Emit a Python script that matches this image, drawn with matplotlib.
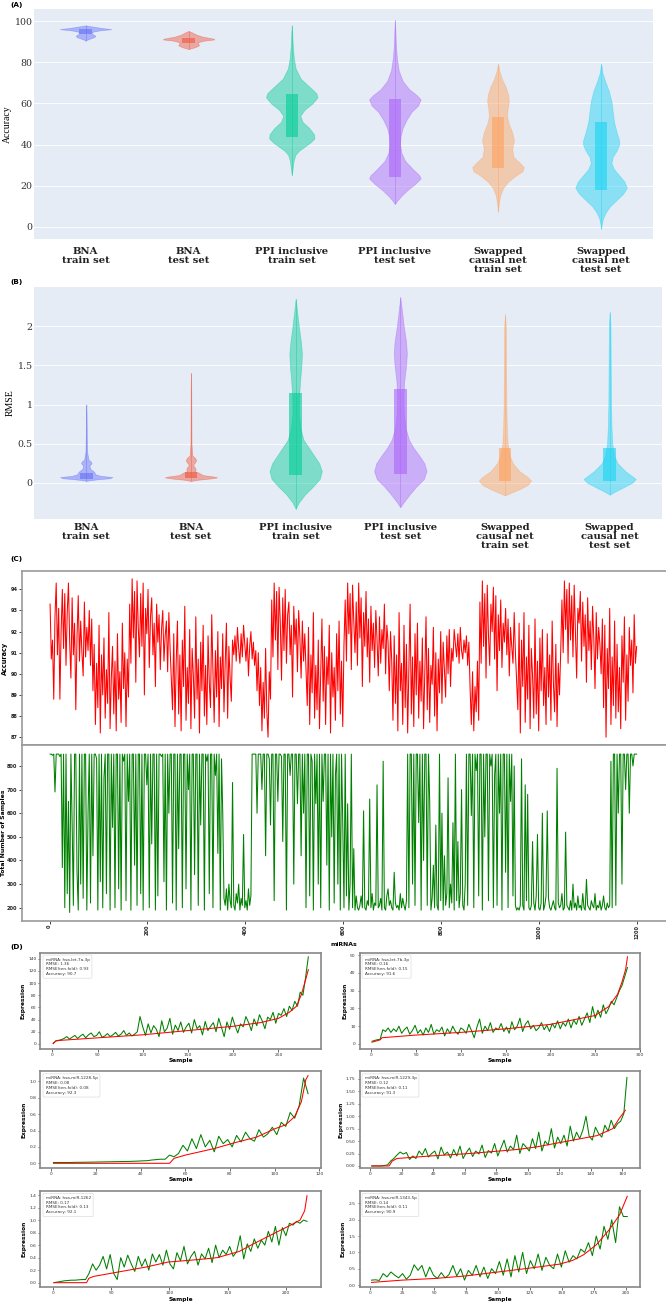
import numpy as np
import matplotlib.pyplot as plt

# ---------------- panel A / B: violins (outline) ----------------
groups = ["BNA\ntrain set", "BNA\ntest set", "PPI inclusive\ntrain set",
          "PPI inclusive\ntest set", "Swapped\ncausal net\ntrain set",
          "Swapped\ncausal net\ntest set"]
colors = ["#636EFA", "#EF553B", "#00CC96", "#AB63FA", "#FFA15A", "#19D3F3"]

# accuracy: outline heights and relative half widths
acc_y = [
    [98.0, 97.5, 96.8, 96.2, 95.6, 95.0, 94.3, 93.6, 93.0, 92.4, 91.7, 91.0, 90.6],
    [95.3, 94.5, 93.5, 92.5, 91.6, 91.2, 90.6, 89.8, 89.0, 88.3, 87.4, 86.5],
    [98, 94, 88, 82, 77, 72, 68, 65, 63, 60, 57, 54, 51, 48, 45, 43, 41, 39, 37, 35, 32, 28, 25],
    [100.5, 95, 88, 82, 76, 71, 67, 64, 62, 59, 56, 52, 48, 44, 40, 36, 32, 28, 25, 23.5, 21, 18, 15, 12.5, 11],
    [79.4, 76, 72, 68, 64, 61, 58, 54, 50, 46, 42, 38, 34, 31, 29, 27, 25, 22, 19, 15, 10, 7.4],
    [79.4, 75, 71, 66, 61, 56, 51, 46, 42, 40, 37, 34, 31, 28, 25, 22, 19, 16, 13, 10, 7, 4, 1, -1],
]
acc_w = [
    [0, 0.25, 0.6, 1.0, 0.55, 0.3, 0.22, 0.3, 0.38, 0.35, 0.2, 0.05, 0],
    [0, 0.15, 0.3, 0.55, 0.95, 1.0, 0.6, 0.35, 0.38, 0.4, 0.25, 0],
    [0, 0.02, 0.04, 0.08, 0.15, 0.35, 0.7, 0.95, 1.0, 0.8, 0.5, 0.33, 0.42, 0.68, 0.86, 0.88, 0.72, 0.5, 0.28, 0.14, 0.07, 0.03, 0],
    [0, 0.02, 0.04, 0.08, 0.15, 0.3, 0.55, 0.85, 1.0, 0.9, 0.65, 0.45, 0.3, 0.22, 0.2, 0.25, 0.4, 0.7, 0.95, 1.0, 0.8, 0.5, 0.25, 0.08, 0],
    [0, 0.05, 0.15, 0.3, 0.4, 0.42, 0.38, 0.35, 0.42, 0.55, 0.62, 0.55, 0.6, 0.85, 1.0, 0.95, 0.7, 0.4, 0.2, 0.08, 0.02, 0],
    [0, 0.05, 0.15, 0.3, 0.4, 0.45, 0.5, 0.6, 0.7, 0.7, 0.6, 0.45, 0.4, 0.5, 0.7, 0.9, 1.0, 0.85, 0.6, 0.35, 0.18, 0.07, 0.02, 0],
]
acc_box = [(93.6, 95.0, 96.4), (89.6, 90.8, 92.0), (43.8, 54.0, 64.4),
           (24.0, 40.0, 62.0), (28.5, 38.0, 53.6), (18.0, 30.0, 51.0)]

rmse_y = [
    [1.0, 0.9, 0.6, 0.4, 0.3, 0.27, 0.25, 0.22, 0.18, 0.14, 0.11, 0.09, 0.075, 0.06, 0.045, 0.03, 0.025],
    [1.4, 1.2, 0.8, 0.5, 0.35, 0.32, 0.29, 0.26, 0.23, 0.21, 0.18, 0.15, 0.13, 0.1, 0.08, 0.07, 0.055, 0.04, 0.025],
    [2.35, 2.2, 2.0, 1.8, 1.65, 1.5, 1.3, 1.1, 0.9, 0.7, 0.55, 0.45, 0.35, 0.25, 0.15, 0.05, -0.05, -0.15, -0.25, -0.33],
    [2.37, 2.2, 2.0, 1.8, 1.65, 1.5, 1.3, 1.1, 0.9, 0.7, 0.55, 0.45, 0.35, 0.25, 0.15, 0.05, -0.05, -0.15, -0.25, -0.31],
    [2.15, 2.0, 1.5, 1.0, 0.7, 0.5, 0.35, 0.25, 0.15, 0.08, 0.03, -0.03, -0.08, -0.13, -0.16],
    [2.18, 2.0, 1.5, 1.0, 0.7, 0.5, 0.35, 0.25, 0.15, 0.08, 0.05, 0.0, -0.06, -0.12, -0.15],
]
rmse_w = [
    [0, 0.01, 0.02, 0.03, 0.08, 0.18, 0.2, 0.12, 0.15, 0.3, 0.35, 0.55, 1.0, 0.9, 0.4, 0.05, 0],
    [0, 0.01, 0.015, 0.02, 0.05, 0.15, 0.2, 0.15, 0.08, 0.12, 0.18, 0.15, 0.3, 0.45, 0.9, 1.0, 0.7, 0.25, 0],
    [0, 0.05, 0.12, 0.2, 0.24, 0.22, 0.17, 0.13, 0.12, 0.18, 0.3, 0.5, 0.7, 0.9, 1.0, 0.92, 0.65, 0.35, 0.12, 0],
    [0, 0.06, 0.13, 0.22, 0.25, 0.22, 0.15, 0.12, 0.13, 0.2, 0.33, 0.5, 0.72, 0.92, 1.0, 0.9, 0.6, 0.35, 0.12, 0],
    [0, 0.03, 0.04, 0.05, 0.07, 0.1, 0.17, 0.3, 0.55, 0.85, 1.0, 0.85, 0.55, 0.2, 0],
    [0, 0.03, 0.04, 0.05, 0.07, 0.1, 0.17, 0.3, 0.6, 0.88, 1.0, 0.85, 0.5, 0.15, 0],
]
rmse_box = [(0.056, 0.08, 0.128), (0.06, 0.09, 0.14), (0.10, 0.5, 1.15),
            (0.12, 0.5, 1.20), (0.02, 0.1, 0.44), (0.03, 0.1, 0.45)]

# ---------------- panel C: per-miRNA accuracy and sample count ----------------
mirna_acc = [
    # 0-88
    93.3, 90.7, 91.6, 88.8, 92.7, 94.3, 90.9, 93.1, 88.8, 92.0, 94.0, 91.2, 93.8, 90.4, 92.9, 94.3, 91.5, 89.8,
    93.6, 90.9, 92.4, 88.3, 91.8, 93.7, 90.6, 92.5, 91.0, 89.9, 93.4, 90.8, 92.2, 91.1, 93.0, 90.4, 92.6,
    # 88-162
    89.2, 91.4, 87.6, 90.5, 88.4, 92.3, 87.2, 90.9, 89.0, 91.7, 87.9, 90.2, 88.6, 92.9, 87.4, 89.8, 91.3, 88.1,
    90.6, 87.3, 91.9, 88.8, 90.1, 87.7, 92.4, 89.3, 91.0, 87.5, 90.7, 88.9,
    # 162-250
    93.3, 90.5, 94.5, 91.7, 93.9, 89.6, 94.4, 92.2, 90.8, 93.8, 91.3, 94.3, 89.0, 93.1, 91.9, 94.0, 90.3, 92.7,
    93.6, 90.9, 92.4, 89.4, 93.3, 91.5, 92.8, 90.2, 92.1, 93.0, 90.6, 91.8, 92.5, 90.1, 92.9, 91.2, 89.7,
    # 250-375
    88.3, 91.9, 87.5, 90.6, 92.5, 88.1, 90.9, 87.3, 91.6, 89.4, 93.2, 87.8, 90.3, 88.6, 92.1, 87.4, 91.2, 89.9,
    87.9, 92.7, 88.8, 90.7, 87.2, 91.5, 89.2, 92.3, 88.0, 90.4, 87.6, 91.8, 89.6, 88.4, 92.8, 90.1, 87.7, 91.1,
    88.9, 92.0, 87.5, 90.8, 89.3, 91.9, 88.2, 90.5, 92.4, 87.9, 91.3, 89.8, 88.7, 91.6,
    # 375-428
    90.9, 91.8, 90.6, 92.2, 91.2, 90.5, 91.9, 90.8, 92.3, 91.4, 90.6, 91.7, 89.9, 91.3, 92.0, 90.7, 91.5, 90.4,
    91.1, 89.2, 91.0,
    # 428-453
    88.5, 90.3, 87.3, 89.6, 87.9, 91.2, 88.2, 87.0, 90.1, 88.8,
    # 453-525
    93.5, 90.8, 94.3, 91.6, 93.9, 90.2, 94.1, 92.4, 89.7, 93.6, 91.1, 94.0, 90.5, 92.8, 93.4, 90.9, 92.3, 88.9,
    93.2, 91.4, 92.6, 90.1, 93.0, 91.7, 89.8, 92.5, 90.6, 91.9, 90.2,
    # 525-603
    88.5, 92.2, 87.6, 90.9, 89.1, 92.9, 87.9, 90.4, 88.3, 91.6, 87.4, 90.0, 92.6, 88.7, 91.3, 87.6, 90.8, 89.5,
    92.3, 87.2, 91.0, 88.9, 90.3, 87.8, 91.9, 89.2, 92.5, 88.1, 90.6, 87.5, 91.4,
    # 603-700
    93.5, 90.6, 94.3, 91.9, 93.8, 90.2, 94.2, 92.5, 91.0, 93.4, 90.4, 94.3, 91.7, 93.6, 89.4, 92.9, 91.3, 93.9,
    90.8, 92.6, 89.6, 93.2, 91.1, 92.4, 90.3, 93.0, 91.6, 89.9, 92.7, 90.5, 92.1, 91.2, 93.3, 90.0, 92.3, 91.5,
    89.2, 92.0, 90.6,
    # 700-820
    87.8, 91.8, 88.6, 90.9, 87.3, 92.9, 89.2, 90.5, 87.6, 92.3, 88.4, 91.4, 87.2, 90.2, 93.3, 88.1, 90.8, 87.5,
    91.9, 89.0, 92.4, 87.9, 90.6, 88.7, 91.7, 87.4, 90.1, 92.7, 88.3, 91.2, 87.7, 90.4, 89.5, 92.2, 88.0, 91.0,
    87.3, 90.7, 89.1, 92.0, 88.6, 91.5, 90.2, 88.9, 91.8, 90.0, 92.1, 89.4,
    # 820-860
    91.2, 90.6, 92.1, 91.4, 90.8, 91.9, 90.5, 92.2, 91.1, 90.7, 91.6, 91.0, 91.8, 90.4, 91.5, 89.3,
    # 860-877
    87.6, 90.1, 87.3, 89.4, 88.2, 90.6, 87.8,
    # 877-955
    93.4, 90.5, 94.4, 91.3, 93.8, 89.8, 94.2, 91.8, 90.4, 93.3, 92.0, 94.1, 90.7, 93.7, 89.2, 92.8, 91.1, 93.5,
    90.3, 92.4, 91.5, 93.1, 90.9, 92.6, 89.9, 92.2, 91.3, 90.5, 92.9, 91.0, 89.6,
    # 955-1045
    88.3, 92.4, 87.2, 91.6, 89.4, 92.9, 87.7, 90.8, 88.8, 92.3, 87.4, 91.2, 89.9, 87.9, 92.6, 88.1, 90.6, 87.3,
    91.7, 89.2, 92.1, 88.5, 90.3, 87.6, 91.9, 88.9, 90.9, 87.8, 92.5, 89.6, 88.2, 91.4, 87.5, 90.5, 89.0, 91.1,
    # 1045-1130
    93.5, 91.0, 94.4, 92.1, 94.0, 90.5, 94.3, 91.6, 93.7, 90.8, 94.2, 91.9, 89.8, 93.1, 92.4, 93.9, 90.6, 93.4,
    91.3, 92.8, 89.6, 93.6, 91.1, 92.5, 90.2, 93.2, 91.7, 89.3, 92.9, 90.7, 92.2, 91.4, 90.0, 92.6,
    # 1130-1200
    88.4, 92.3, 87.0, 91.2, 89.3, 93.1, 87.6, 90.8, 88.5, 92.5, 87.9, 91.4, 88.2, 90.3, 87.4, 91.8, 89.6, 92.7,
    87.8, 90.9, 88.7, 92.2, 90.4, 91.6, 89.1, 92.8, 90.5, 91.3,
]
mirna_samples = [
    # 0-30
    850, 850, 845, 850, 690, 850, 850, 850, 840, 850, 370, 850,
    # 30-355
    200, 850, 260, 650, 180, 850, 560, 210, 850, 850, 350, 190, 850, 300, 850, 240, 850, 850, 190, 600,
    850, 220, 850, 420, 850, 850, 830, 190, 850, 310, 850, 200, 750, 850, 260, 850, 850, 190, 850, 540,
    850, 200, 850, 850, 280, 850, 190, 850, 820, 850, 230, 850, 650, 850, 190, 850, 850, 380, 850, 210,
    850, 850, 260, 850, 190, 850, 850, 720, 850, 200, 850, 470, 850, 850, 190, 850, 250, 850, 850, 840,
    850, 310, 850, 190, 850, 600, 850, 850, 220, 850, 850, 190, 850, 450, 850, 850, 200, 850, 850, 280,
    850, 700, 850, 190, 850, 850, 340, 850, 850, 210, 850, 550, 850, 850, 190, 850, 820, 850, 260, 850,
    850, 200, 850, 760, 850, 430, 850, 190, 830, 600,
    # 355-420
    240, 210, 280, 190, 300, 230, 200, 730, 210, 190, 260, 220, 300, 190, 240, 210, 510, 200, 230, 190,
    280, 210, 250, 850, 850, 850,
    # 420-630
    850, 600, 850, 850, 850, 700, 850, 850, 420, 850, 850, 830, 550, 850, 850, 230, 850, 850, 650, 850,
    850, 840, 480, 850, 850, 190, 850, 850, 760, 850, 850, 300, 850, 850, 640, 850, 850, 420, 850, 600,
    850, 200, 850, 850, 250, 850, 820, 190, 850, 640, 850, 300, 850, 200, 850, 650, 850, 850, 380, 850,
    190, 850, 500, 850, 220, 760, 850, 300, 850, 190, 850, 560, 200, 850, 250, 640, 190, 300, 850, 200,
    450, 190, 250, 200,
    # 630-730
    190, 210, 250, 200, 610, 200, 190, 230, 210, 660, 200, 260, 190, 220, 210, 720, 200, 210, 240, 190,
    820, 200, 190, 250, 280, 210, 230, 200, 190, 350, 220, 200, 210, 190, 260, 200, 240, 210, 190, 230,
    # 730-780
    850, 200, 850, 850, 300, 850, 210, 850, 850, 560, 850, 190, 850, 400, 850, 850, 210, 850, 650, 190,
    # 780-850
    240, 380, 200, 550, 210, 190, 850, 230, 600, 190, 420, 210, 260, 750, 200, 300, 220, 560, 190, 850,
    230, 480, 200, 260, 700, 210, 190, 300,
    # 850-955
    850, 210, 850, 850, 590, 850, 200, 850, 780, 850, 250, 850, 850, 190, 850, 500, 850, 850, 230, 850,
    800, 850, 200, 760, 850, 210, 850, 600, 850, 190, 850, 850, 350, 850, 200, 850, 650, 850, 250, 800,
    210, 190,
    # 955-1145
    200, 190, 210, 830, 210, 190, 720, 230, 680, 200, 190, 210, 480, 220, 190, 250, 510, 200, 190, 220,
    600, 190, 210, 250, 610, 240, 200, 190, 210, 230, 200, 190, 790, 220, 200, 210, 260, 190, 200, 520,
    210, 200, 190, 230, 190, 300, 200, 220, 190, 250, 200, 210, 190, 260, 200, 190, 320, 210, 200, 190,
    230, 210, 200, 260, 190, 210, 200, 230, 190, 210, 250, 200, 190, 220, 200, 210,
    # 1145-1200
    820, 200, 850, 850, 210, 850, 600, 850, 850, 300, 850, 850, 700, 850, 850, 600, 850, 850, 800, 850,
    850, 850,
]
n_mirna = 1200

# ---------------- panel D: six example miRNAs ----------------
d_names = ["hsa-let-7a-3p", "hsa-let-7b-3p", "hsa-miR-1228-5p",
           "hsa-miR-1229-3p", "hsa-miR-1262", "hsa-miR-1343-5p"]
d_rmse = [1.36, 0.16, 0.08, 0.12, 0.17, 0.14]
d_rmse10 = [0.93, 0.15, 0.08, 0.11, 0.13, 0.11]
d_acc = [90.7, 91.6, 92.3, 91.3, 92.1, 90.9]
d_n = [283, 286, 115, 163, 218, 201]

# actual expression (sorted), read at a few samples
d_actual_x = [
    [1, 4, 10, 30, 60, 100, 150, 200, 230, 250, 262, 270, 275, 279, 283],
    [1, 10, 12, 50, 100, 150, 200, 250, 265, 275, 280, 284, 286],
    [1, 53, 55, 60, 73, 82, 92, 100, 105, 109, 112, 114, 115],
    [1, 12, 14, 17, 38, 63, 93, 105, 122, 144, 154, 158, 162],
    [1, 29, 31, 35, 50, 65, 80, 99, 125, 141, 160, 172, 189, 204, 212, 216, 218],
    [1, 25, 50, 75, 100, 125, 148, 158, 167, 177, 187, 195, 201],
]
d_actual_y = [
    [0.5, 5, 6, 8, 11, 15, 22, 29, 35, 42, 52, 62, 80, 100, 122],
    [1.0, 2.3, 3.5, 5.0, 6.5, 8.5, 11, 16, 21, 28, 35, 42, 49],
    [0, 0, 0.06, 0.1, 0.18, 0.25, 0.32, 0.42, 0.47, 0.57, 0.75, 1.02, 1.07],
    [0, 0, 0.1, 0.15, 0.2, 0.25, 0.33, 0.38, 0.48, 0.61, 0.75, 0.95, 1.12],
    [0.0, 0.0, 0.07, 0.1, 0.15, 0.2, 0.25, 0.33, 0.37, 0.4, 0.5, 0.62, 0.78, 0.92, 1.0, 1.15, 1.39],
    [0.08, 0.15, 0.2, 0.28, 0.4, 0.52, 0.64, 0.75, 0.93, 1.24, 1.7, 2.15, 2.72],
]
# predicted expression, every few samples
d_pred = [
    [1, 5, 6, 7, 9, 12, 8, 11, 14, 9, 13, 16, 10, 15, 18, 12, 14, 20, 11, 13,
     17, 12, 15, 19, 13, 16, 22, 14, 18, 13, 16, 20, 45, 28, 14, 33, 18, 30, 24, 12,
     38, 20, 26, 42, 16, 31, 22, 36, 19, 28, 34, 18, 40, 25, 30, 15, 37, 22, 29, 35,
     20, 42, 27, 12, 36, 24, 44, 30, 18, 33, 28, 45, 35, 22, 41, 30, 48, 38, 25, 44,
     40, 52, 34, 50, 47, 58, 45, 62, 55, 70, 62, 85, 80, 110, 143],
    [1.5, 2.0, 2.4, 2.6, 8.0, 7.0, 9.0, 6.5, 8.5, 7.0, 10.0, 6.0, 8.0, 9.5, 5.5, 7.5, 10.5, 6.0, 8.0, 5.0,
     9.0, 6.5, 11.0, 5.5, 8.0, 7.0, 9.5, 4.5, 8.5, 6.0, 10.0, 7.0, 5.5, 9.0, 8.0, 6.0, 11.0, 7.5, 3.5, 9.5,
     14.0, 6.0, 10.0, 7.5, 12.0, 6.5, 9.0, 8.0, 11.5, 7.0, 9.5, 6.0, 12.5, 8.0, 10.0, 14.5, 7.0, 11.0, 13.0, 8.5,
     10.5, 7.5, 9.0, 12.0, 8.0, 10.5, 7.0, 11.5, 9.0, 13.0, 8.5, 12.0, 10.0, 14.0, 9.0, 13.5, 11.0, 15.5, 10.5, 14.0,
     17.5, 12.0, 21.0, 14.5, 19.0, 15.0, 22.0, 17.0, 20.0, 24.0, 22.0, 26.0, 30.0, 33.0, 38.0, 43.0],
    [0.01, 0.01, 0.01, 0.01, 0.01, 0.012, 0.012, 0.013, 0.014, 0.015, 0.016, 0.017, 0.018, 0.019, 0.02,
     0.021, 0.022, 0.023, 0.025, 0.027, 0.03, 0.032, 0.04, 0.045, 0.05, 0.05, 0.1, 0.08, 0.12,
     0.22, 0.15, 0.3, 0.18, 0.35, 0.2, 0.28, 0.14, 0.33, 0.24, 0.29,
     0.2, 0.34, 0.26, 0.38, 0.3, 0.27, 0.41, 0.32, 0.36, 0.44, 0.35,
     0.5, 0.45, 0.62, 0.55, 0.7, 1.04, 0.85],
    [0.0, 0.0, 0.0, 0.0, 0.01, 0.02, 0.1, 0.15, 0.22, 0.28, 0.24, 0.27, 0.13, 0.2, 0.15, 0.3, 0.22, 0.35, 0.18, 0.25,
     0.3, 0.14, 0.38, 0.22, 0.28, 0.16, 0.33, 0.2, 0.4, 0.15, 0.27, 0.36, 0.19, 0.3, 0.24, 0.42, 0.17, 0.31, 0.26, 0.45,
     0.2, 0.36, 0.52, 0.28, 0.4, 0.33, 0.62, 0.25, 0.45, 0.38, 0.3, 0.55, 0.35, 0.68, 0.3, 0.5, 0.42, 0.75, 0.36, 0.58,
     0.45, 0.62, 0.4, 0.8, 0.5, 0.68, 0.55, 0.72, 1.0, 0.6, 0.52, 0.78, 0.65, 0.58, 0.82, 0.7, 0.92, 0.75, 0.85, 0.9,
     1.05, 1.78],
    [0.0, 0.01, 0.02, 0.03, 0.035, 0.04, 0.04, 0.045, 0.05, 0.05,
     0.15, 0.3, 0.2, 0.28, 0.42, 0.22, 0.45, 0.15, 0.05, 0.4,
     0.25, 0.44, 0.3, 0.18, 0.42, 0.26, 0.38, 0.2, 0.46, 0.33,
     0.45, 0.28, 0.52, 0.3, 0.22, 0.48, 0.35, 0.58, 0.3, 0.42,
     0.5, 0.28, 0.46, 0.38, 0.55, 0.32, 0.6, 0.4, 0.52, 0.45,
     0.58, 0.42, 0.5, 0.75, 0.38, 0.62, 0.5, 0.7, 0.55, 0.68,
     0.6, 0.82, 0.65, 0.9, 0.6, 0.88, 0.75, 0.95, 0.92, 0.98, 0.95, 1.0, 0.98],
    [0.15, 0.16, 0.14, 0.35, 0.25, 0.4, 0.3, 0.22, 0.35, 0.18, 0.3,
     0.62, 0.45, 0.6, 0.25, 0.55, 0.3, 0.2, 0.38, 0.22, 0.32, 0.6,
     0.28, 0.5, 0.15, 0.45, 0.3, 0.6, 0.25, 0.55, 0.2, 0.5, 0.35,
     0.72, 0.3, 0.8, 0.25, 0.9, 0.4, 1.0, 0.35, 0.75, 0.5, 0.95,
     0.45, 0.85, 0.6, 0.5, 0.95, 0.55, 1.05, 0.7, 0.9, 0.8, 1.1,
     1.0, 1.3, 0.9, 1.5, 1.1, 1.8, 1.4, 2.0, 1.3, 2.4, 2.1, 2.1],
]
d_xlim = [(-13, 297), (-13, 300), (-4.8, 120.8), (-6.8, 171.3), (-10.5, 230), (-8.4, 211)]
d_ylim = [(-8.2, 149.8), (-2.8, 51.3), (-0.054, 1.12), (-0.036, 1.90), (-0.074, 1.464), (-0.07, 2.88)]

SERIF = "DejaVu Serif"

fig = plt.figure(figsize=(6.66, 13.04), dpi=100)


def violin_panel(ax, ys, ws, boxes, ylim, yticks, yticklabels, ylabel, pad):
    ax.set_facecolor("#E5ECF6")
    for s in ax.spines.values():
        s.set_visible(False)
    pos = list(range(len(groups)))
    stats = []
    for y, w in zip(ys, ws):
        y = np.array(y, float)
        stats.append(dict(coords=y, vals=np.array(w, float), mean=y.mean(),
                          median=np.median(y), min=y.min(), max=y.max()))
    parts = ax.violin(stats, positions=pos, widths=0.5, showextrema=False)
    for body, c in zip(parts["bodies"], colors):
        body.set_facecolor(c)
        body.set_edgecolor(c)
        body.set_alpha(0.45)
        body.set_linewidth(0.5)
    for p, y, (q1, med, q3), c in zip(pos, ys, boxes, colors):
        ax.vlines(p, min(y), max(y), color=c, lw=0.4, alpha=0.7, zorder=3)
        ax.bar(p, q3 - q1, bottom=q1, width=0.12, color=c, alpha=0.6, lw=0, zorder=3)
    ax.set_xlim(-0.5, 5.5)
    ax.set_ylim(*ylim)
    ax.set_yticks(yticks)
    ax.set_yticklabels(yticklabels, family=SERIF, fontsize=6.8, color="#333333")
    ax.set_xticks(pos)
    ax.set_xticklabels(groups, family=SERIF, fontweight="bold", fontsize=7.2,
                       linespacing=1.0, va="top", color="#222222")
    ax.tick_params(length=0, pad=1)
    ax.tick_params(axis="x", pad=pad)
    ax.grid(axis="y", color="white", lw=0.6)
    ax.set_axisbelow(True)
    ax.set_ylabel(ylabel, family="Liberation Serif", fontsize=7, labelpad=2)


axA = fig.add_axes([0.051, 0.8167, 0.929, 0.1764])
violin_panel(axA, acc_y, acc_w, acc_box, (-6, 106), [0, 20, 40, 60, 80, 100],
             ["0", "20", "40", "60", "80", "100"], "Accuracy", 6)

axB = fig.add_axes([0.051, 0.602, 0.943, 0.178])
violin_panel(axB, rmse_y, rmse_w, rmse_box, (-0.46, 2.50), [0, 0.5, 1, 1.5, 2],
             ["0", "0.5", "1", "1.5", "2"], "RMSE", 3)

# ---------------- panel C ----------------
x_acc = np.linspace(1, n_mirna, len(mirna_acc))
x_smp = np.linspace(1, n_mirna, len(mirna_samples))

axC1 = fig.add_axes([0.0326, 0.4285, 0.9674, 0.1338])
axC2 = fig.add_axes([0.0326, 0.2939, 0.9674, 0.1346], sharex=axC1)
axC1.plot(x_acc, mirna_acc, color="red", lw=0.75)
axC2.plot(x_smp, mirna_samples, color="green", lw=0.75)
axC1.set_xlim(-57, 1260)
axC1.set_ylim(86.62, 94.88)
axC2.set_ylim(145, 887.6)
axC1.set_yticks(range(87, 95))
axC2.set_yticks(range(200, 801, 100))
axC2.set_xticks(range(0, 1201, 200))
axC1.tick_params(axis="x", bottom=False, labelbottom=False)
for ax in (axC1, axC2):
    ax.spines["right"].set_visible(False)
    for s in ("left", "top", "bottom"):
        ax.spines[s].set_color("#999999")
        ax.spines[s].set_linewidth(1.2)
    ax.tick_params(labelsize=3.6, length=2, width=0.6, pad=1, colors="#222222")
    for t in ax.get_yticklabels() + ax.get_xticklabels():
        t.set_fontweight("bold")
for t in axC2.get_xticklabels():
    t.set_rotation(90)
axC1.set_ylabel("Accuracy", fontsize=4.7, fontweight="bold", labelpad=2)
axC2.set_ylabel("Total Number of Samples", fontsize=4.4, fontweight="bold", labelpad=1)
axC2.set_xlabel("miRNAs", fontsize=4.4, fontweight="bold", labelpad=2)

# ---------------- panel D ----------------
d_left = [0.0608, 0.5398]
d_bottom = [0.1956, 0.1045, 0.0128]
for i in range(6):
    r, c = divmod(i, 2)
    ax = fig.add_axes([d_left[c], d_bottom[r], 0.4212, 0.0738])
    xg = np.linspace(1, d_n[i], len(d_pred[i]))
    ax.plot(xg, d_pred[i], color="green", lw=0.75)
    ax.plot(d_actual_x[i], d_actual_y[i], color="red", lw=0.75)
    ax.set_xlim(*d_xlim[i])
    ax.set_ylim(*d_ylim[i])
    for s in ax.spines.values():
        s.set_color("#888888")
        s.set_linewidth(1.2)
    ax.tick_params(labelsize=3.2, length=1.8, width=0.5, pad=1, colors="#333333")
    ax.set_xlabel("Sample", fontsize=4.2, fontweight="bold", labelpad=1)
    ax.set_ylabel("Expression", fontsize=4.2, fontweight="bold", labelpad=2)
    info = (f"miRNA: {d_names[i]}\nRMSE: {d_rmse[i]}\n"
            f"RMSE(ten-fold): {d_rmse10[i]}\nAccuracy: {d_acc[i]}")
    ax.text(0.018, 0.95, info, transform=ax.transAxes, fontsize=3, va="top",
            ha="left", linespacing=1.25, color="#333333",
            bbox=dict(boxstyle="round,pad=0.6,rounding_size=0.3", fc="white",
                      ec="#dddddd", lw=0.5))

# panel letters
for lab, y in [("(A)", 0.9965), ("(B)", 0.784), ("(C)", 0.5713), ("(D)", 0.274)]:
    fig.text(0.016, y, lab, fontsize=5.2, fontweight="bold", va="center", ha="left")

fig.savefig("out.png", dpi=100)
